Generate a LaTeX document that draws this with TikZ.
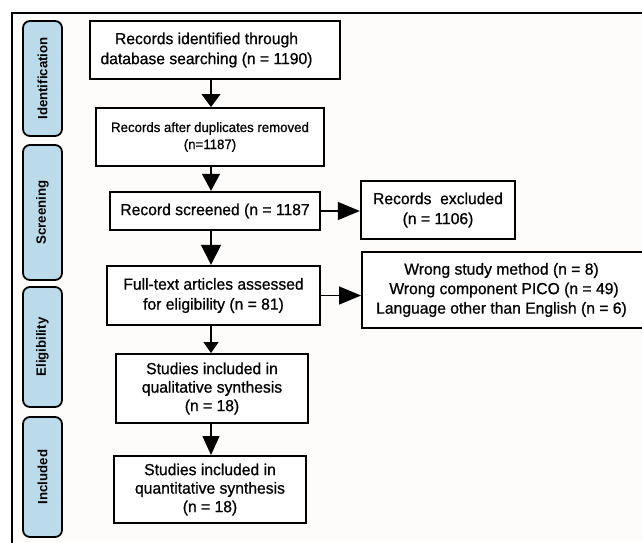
\documentclass[tikz,border=0pt]{standalone}
\usepackage{fontspec}
\setmainfont[FakeStretch=0.98, UprightFeatures={FakeBold=0.8}]{Liberation Sans}
\usetikzlibrary{arrows.meta}
\definecolor{sideblue}{HTML}{BCDBEA}
\definecolor{paper}{HTML}{FDFCFB}
\begin{document}
\begin{tikzpicture}[x=1pt,y=-1pt,
  box/.style={draw=black, line width=2pt, fill=white, align=center, inner sep=0pt,
    font=\fontsize{16}{20}\selectfont},
  side/.style={draw=black, line width=1.8pt, fill=sideblue, rounded corners=7pt,
    minimum height=39pt, inner sep=0pt, font=\bfseries\fontsize{13.5}{15}\selectfont, rotate=90},
  arr/.style={line width=1.4pt, -{Triangle[length=#1]}},
  arr/.default={16pt,width=18pt},
]
\useasboundingbox (0,0) rectangle (642,542);
\fill[white] (0,0) rectangle (642,542);
\fill[paper] (12,13) rectangle (642,542);
\draw[line width=2.6pt] (645,13) -- (12,13) -- (12,545);

% side labels
\node[side, minimum width=115pt] (s1) at (42.5,78.5) {Identification};
\node[side, minimum width=135pt] (s2) at (42.5,212.5) {Screening};
\node[side, minimum width=120pt] (s3) at (42.5,347) {Eligibility};
\node[side, minimum width=120pt] (s4) at (42.5,477) {Included};

% main boxes
\node[box, minimum width=250pt, minimum height=58pt, line width=2.6pt] (b1) at (215,50)
  {Records identified through\hspace*{17pt}\\database searching (n = 1190)\hspace*{17pt}};
\node[box, minimum width=228pt, minimum height=58pt, font=\fontsize{13.5}{17}\selectfont] (b2) at (210,137)
  {Records after duplicates removed\\(n=1187)};
\node[box, minimum width=210pt, minimum height=38pt, line width=2.4pt] (b3) at (215,211)
  {Record screened (n = 1187};
\node[box, minimum width=213pt, minimum height=59pt, line width=2.4pt] (b4) at (213.5,295.5)
  {Full-text articles assessed\\for eligibility (n = 81)};
\node[box, minimum width=192pt, minimum height=69pt, font=\fontsize{16}{18.5}\selectfont] (b5) at (212,388.5)
  {Studies included in\\qualitative synthesis\\(n = 18)};
\node[box, minimum width=192pt, minimum height=67pt, font=\fontsize{16}{18.5}\selectfont] (b6) at (210,489.5)
  {Studies included in\\quantitative synthesis\\(n = 18)};
\node[box, minimum width=154pt, minimum height=58pt, line width=2.4pt] (b7) at (438,210)
  {Records\ \ excluded\\(n = 1106)};
\node[box, minimum width=284pt, minimum height=76pt, font=\fontsize{16}{19.5}\selectfont] (b8) at (504,290)
  {Wrong study method (n = 8)\hspace*{5pt}\\Wrong component PICO (n = 49)\hspace*{5pt}\\Language other than English (n = 6)\hspace*{5pt}};

% connectors
\coordinate (ax) at (211,0);
\draw[arr={13pt,width=19pt}] (b1.south -| ax) -- (b2.north -| ax);
\draw[arr={17pt,width=18pt}] (b2.south -| ax) -- (b3.north -| ax);
\draw[arr={20pt,width=20pt}] (b3.south -| ax) -- (b4.north -| ax);
\draw[arr={11pt,width=15pt}] (b4.south -| ax) -- (b5.north -| ax);
\draw[arr={19pt,width=17pt}] (b5.south -| ax) -- (b6.north -| ax);
\draw[arr={22pt,width=18pt}] (b3.east) -- (b3.east -| b7.west);
\draw[arr={22pt,width=18pt}] (b4.east) -- (b4.east -| b8.west);
\end{tikzpicture}
\end{document}
